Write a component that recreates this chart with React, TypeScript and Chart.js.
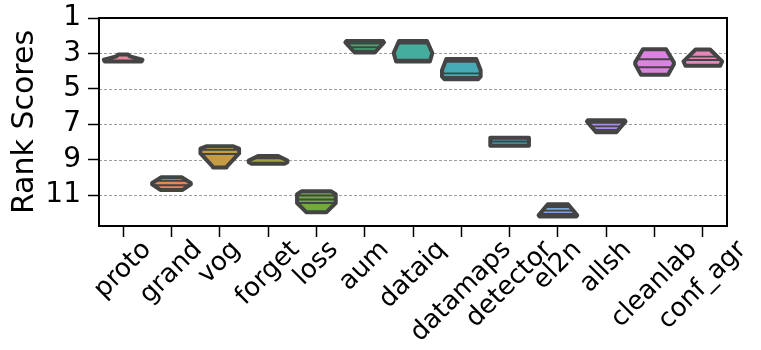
import React, { useEffect, useRef } from "react";
import { Chart, registerables } from "chart.js";

Chart.register(...registerables);

const categories = ["proto", "grand", "vog", "forget", "loss", "aum", "dataiq", "datamaps", "detector", "el2n", "allsh", "cleanlab", "conf_agr"];
const colors = ["#e8879a", "#e0895c", "#c49c44", "#a0a33f", "#6fab3f", "#40ab75", "#44ad9d", "#45aab6", "#43a1c9", "#7d9fe4", "#a78ce6", "#df80e3", "#e986b9"];
const yTicks = [1, 3, 5, 7, 9, 11];
const gridValues = [3, 5, 7, 9, 11];
const yMin = 1;
const yMax = 12.75;

// violin outline: rank positions (top to bottom) and half widths (category units)
const profileY = [
  [3.06, 3.17, 3.36, 3.46],
  [10.0, 10.32, 10.4, 10.71],
  [8.25, 8.38, 8.65, 9.38, 9.45],
  [8.8, 9.05, 9.15, 9.23],
  [10.78, 10.95, 11.45, 11.97],
  [2.3, 2.38, 2.95],
  [2.3, 2.98, 3.46],
  [3.32, 3.95, 4.3, 4.46],
  [7.77, 8.21],
  [11.52, 12.15, 12.22],
  [6.77, 6.85, 7.45],
  [2.76, 3.5, 3.62, 4.21],
  [2.78, 3.45, 3.7],
];
const profileW = [
  [0.1, 0.14, 0.4, 0.38],
  [0.21, 0.4, 0.4, 0.23],
  [0.28, 0.4, 0.4, 0.15, 0.14],
  [0.21, 0.4, 0.4, 0.34],
  [0.3, 0.4, 0.4, 0.21],
  [0.38, 0.4, 0.21],
  [0.29, 0.4, 0.35],
  [0.31, 0.4, 0.4, 0.35],
  [0.4, 0.4],
  [0.21, 0.4, 0.38],
  [0.38, 0.4, 0.21],
  [0.24, 0.4, 0.4, 0.28],
  [0.15, 0.4, 0.36],
];
// inner stick lines (rank values)
const sticks = [
  [],
  [10.2, 10.45],
  [8.45, 8.68],
  [8.93],
  [11.03, 11.25, 11.45],
  [2.45, 2.65, 2.85],
  [2.45, 3.35],
  [3.47, 4.13, 4.33],
  [7.98],
  [11.68, 11.88, 12.07],
  [6.92, 7.12, 7.32],
  [3.33, 3.78],
  [3.18, 3.37],
];

const EDGE = "#444444";

function halfWidthAt(ys: number[], ws: number[], y: number): number {
  if (y <= ys[0]) return ws[0];
  for (let k = 1; k < ys.length; k++) {
    if (y <= ys[k]) {
      const t = (y - ys[k - 1]) / (ys[k] - ys[k - 1]);
      return ws[k - 1] + t * (ws[k] - ws[k - 1]);
    }
  }
  return ws[ws.length - 1];
}

const violinPlugin = {
  id: "violins",
  beforeDatasetsDraw(chart: any) {
    const { ctx, chartArea, scales } = chart;
    const y = scales.y;
    ctx.save();
    ctx.strokeStyle = "#939393";
    ctx.lineWidth = 0.9;
    ctx.setLineDash([3, 2]);
    gridValues.forEach((v) => {
      const py = Math.round(y.getPixelForValue(v)) + 0.5;
      ctx.beginPath();
      ctx.moveTo(chartArea.left, py);
      ctx.lineTo(chartArea.right, py);
      ctx.stroke();
    });
    ctx.restore();
  },
  afterDatasetsDraw(chart: any) {
    const { ctx, scales } = chart;
    const x = scales.x;
    const y = scales.y;
    categories.forEach((_, i) => {
      const ys = profileY[i];
      const ws = profileW[i];
      const path = new Path2D();
      ys.forEach((v, k) => {
        const px = x.getPixelForValue(i - ws[k]);
        const py = y.getPixelForValue(v);
        if (k === 0) path.moveTo(px, py);
        else path.lineTo(px, py);
      });
      for (let k = ys.length - 1; k >= 0; k--) {
        path.lineTo(x.getPixelForValue(i + ws[k]), y.getPixelForValue(ys[k]));
      }
      path.closePath();
      ctx.save();
      ctx.fillStyle = colors[i];
      ctx.fill(path);
      ctx.save();
      ctx.clip(path);
      ctx.strokeStyle = EDGE;
      ctx.lineWidth = 1.9;
      sticks[i].forEach((s) => {
        const hw = halfWidthAt(ys, ws, s);
        const py = y.getPixelForValue(s);
        ctx.beginPath();
        ctx.moveTo(x.getPixelForValue(i - hw), py);
        ctx.lineTo(x.getPixelForValue(i + hw), py);
        ctx.stroke();
      });
      ctx.restore();
      ctx.lineJoin = "round";
      ctx.lineWidth = 4;
      ctx.strokeStyle = EDGE;
      ctx.stroke(path);
      ctx.restore();
    });
  },
  afterDraw(chart: any) {
    const { ctx, chartArea, scales } = chart;
    const x = scales.x;
    ctx.save();
    ctx.strokeStyle = "#000";
    ctx.lineWidth = 2;
    ctx.strokeRect(chartArea.left, chartArea.top, chartArea.right - chartArea.left, chartArea.bottom - chartArea.top);
    const size = 26;
    ctx.font = `${size}px "DejaVu Sans"`;
    ctx.fillStyle = "#000";
    ctx.textAlign = "center";
    ctx.textBaseline = "alphabetic";
    const labelTop = chartArea.bottom + 11;
    categories.forEach((lab, i) => {
      const w = ctx.measureText(lab).width;
      const h = 0.968 * size;
      const W = (w + h) * Math.SQRT1_2;
      const cx = x.getPixelForValue(i);
      const cy = labelTop + W / 2;
      ctx.save();
      ctx.translate(cx, cy);
      ctx.rotate(-Math.PI / 4);
      ctx.fillText(lab, 0, 0.25 * size);
      ctx.restore();
    });
    ctx.restore();
  },
};

export default function App() {
  const ref = useRef<HTMLCanvasElement | null>(null);
  useEffect(() => {
    if (!ref.current) return;
    Chart.defaults.font.family = '"DejaVu Sans"';
    Chart.defaults.color = "#000";
    const chart = new Chart(ref.current, {
      type: "line",
      data: {
        labels: categories,
        datasets: [
          {
            data: categories.map(() => null),
            pointRadius: 0,
            showLine: false,
          },
        ],
      },
      options: {
        animation: false,
        responsive: false,
        devicePixelRatio: 1,
        layout: { padding: { left: 0, right: 34, top: 18, bottom: 0 } },
        plugins: { legend: { display: false }, tooltip: { enabled: false } },
        scales: {
          x: {
            type: "category",
            offset: true,
            grid: { offset: false, drawOnChartArea: false, drawTicks: true, tickLength: 11, tickWidth: 1.5, tickColor: "#000" },
            border: { display: false },
            ticks: { display: false },
            afterFit: (s: any) => {
              s.height = 124;
              s.paddingLeft = 0;
              s.paddingRight = 0;
            },
          },
          y: {
            type: "linear",
            reverse: true,
            min: yMin,
            max: yMax,
            grid: { drawOnChartArea: false, drawTicks: true, tickLength: 11, tickWidth: 1.5, tickColor: "#000" },
            border: { display: false },
            afterBuildTicks: (s: any) => {
              s.ticks = yTicks.map((v) => ({ value: v }));
            },
            ticks: { font: { size: 28 }, color: "#000", padding: 7, autoSkip: false },
            title: { display: true, text: "Rank Scores", font: { size: 30 }, color: "#000", padding: { top: 7, bottom: 0 } },
            afterFit: (s: any) => {
              s.width = 99;
              s.paddingTop = 0;
              s.paddingBottom = 0;
            },
          },
        },
      },
      plugins: [violinPlugin],
    });
    return () => chart.destroy();
  }, []);
  return (
    <div style={{ position: "absolute", left: 0, top: 0, width: 761, height: 350, background: "#fff" }}>
      <canvas ref={ref} width={761} height={350} style={{ display: "block" }} />
    </div>
  );
}
